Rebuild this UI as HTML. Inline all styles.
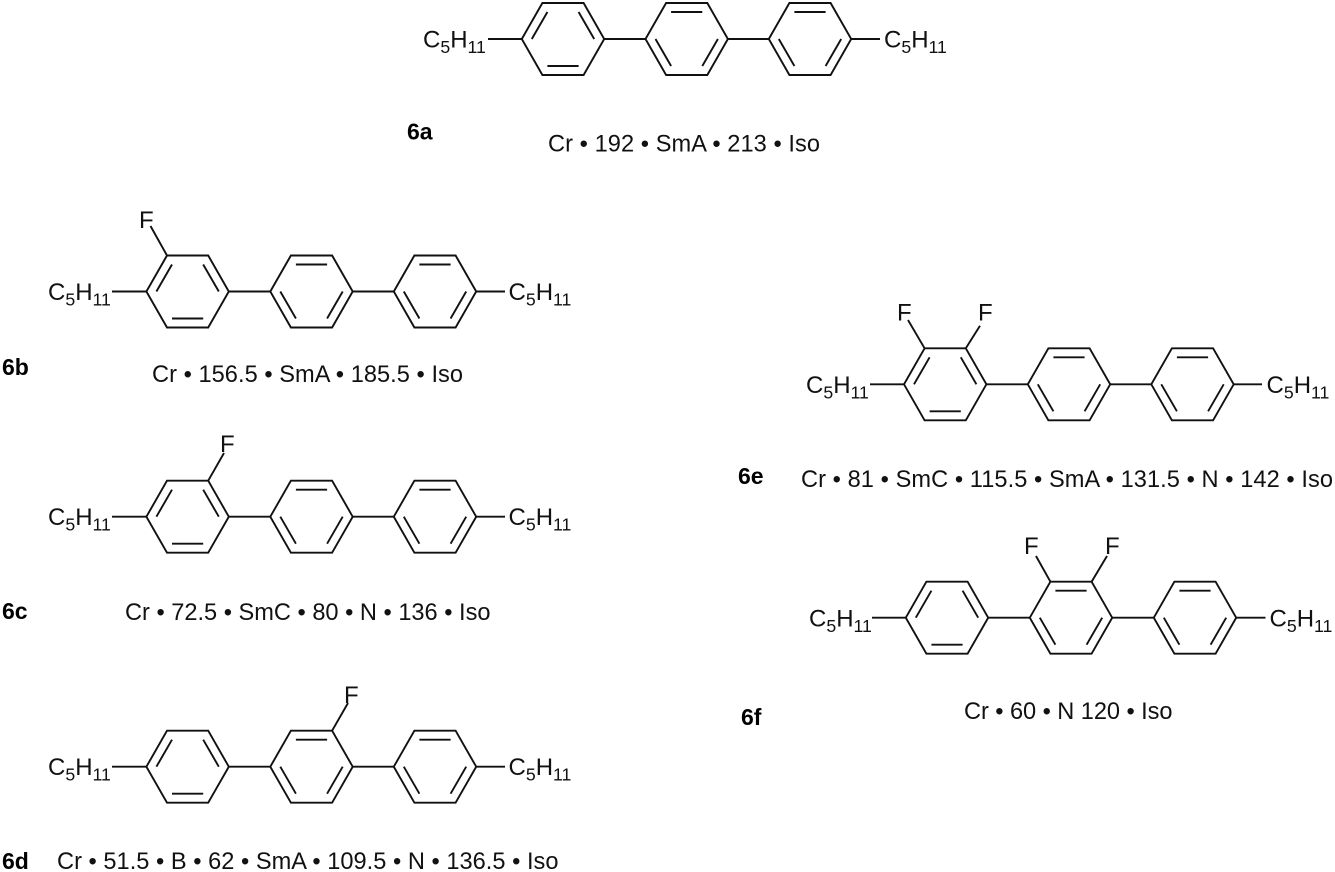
<!DOCTYPE html>
<html>
<head>
<meta charset="utf-8">
<style>
html,body{margin:0;padding:0;background:#fff;}
svg{display:block;}
text{font-family:"Liberation Sans",Arial,sans-serif;fill:#111;}
.r{font-size:23.6px;}
.b{font-size:23px;font-weight:bold;fill:#000;}
.g{font-size:24px;}
.s{font-size:17.7px;}
line,polygon{stroke:#111;stroke-width:1.9;fill:none;stroke-linejoin:miter;}
</style>
</head>
<body>
<svg width="1335" height="872" viewBox="0 0 1335 872" xmlns="http://www.w3.org/2000/svg">
<defs>
<g id="a">
<polygon points="-41.2,0 -20.6,-36 20.6,-36 41.2,0 20.6,36 -20.6,36"/>
<line x1="-31.2" y1="0" x2="-15.6" y2="-27"/>
<line x1="31.2" y1="0" x2="15.6" y2="-27"/>
<line x1="-15.6" y1="27" x2="15.6" y2="27"/>
</g>
<g id="c">
<polygon points="-41.2,0 -20.6,-36 20.6,-36 41.2,0 20.6,36 -20.6,36"/>
<line x1="-15.6" y1="-27" x2="15.6" y2="-27"/>
<line x1="-31.2" y1="0" x2="-15.6" y2="27"/>
<line x1="31.2" y1="0" x2="15.6" y2="27"/>
</g>
</defs>

<!-- 6a -->
<use href="#a" x="563" y="39"/><use href="#c" x="686.7" y="39"/><use href="#c" x="810" y="39"/>
<line x1="488" y1="39" x2="521.8" y2="39"/><line x1="604.2" y1="39" x2="645.5" y2="39"/><line x1="727.9" y1="39" x2="768.8" y2="39"/><line x1="851.2" y1="39" x2="880" y2="39"/>
<text class="g" x="423" y="47.5">C<tspan class="s" dy="5.5">5</tspan><tspan dy="-5.5">H</tspan><tspan class="s" dy="5.5">11</tspan></text>
<text class="g" x="884" y="47.5">C<tspan class="s" dy="5.5">5</tspan><tspan dy="-5.5">H</tspan><tspan class="s" dy="5.5">11</tspan></text>
<text class="b" x="407" y="139.5">6a</text>
<text class="r" x="548" y="151.5" textLength="272">Cr • 192 • SmA • 213 • Iso</text>

<!-- 6b -->
<use href="#a" x="187.6" y="291.5"/><use href="#c" x="311.5" y="291.5"/><use href="#c" x="435" y="291.5"/>
<line x1="112" y1="291.5" x2="146.4" y2="291.5"/><line x1="228.8" y1="291.5" x2="270.3" y2="291.5"/><line x1="352.7" y1="291.5" x2="393.8" y2="291.5"/><line x1="476.2" y1="291.5" x2="505" y2="291.5"/>
<line x1="167" y1="255.5" x2="150.5" y2="226"/>
<text class="g" x="139" y="228">F</text>
<text class="g" x="48" y="300">C<tspan class="s" dy="5.5">5</tspan><tspan dy="-5.5">H</tspan><tspan class="s" dy="5.5">11</tspan></text>
<text class="g" x="508.5" y="300">C<tspan class="s" dy="5.5">5</tspan><tspan dy="-5.5">H</tspan><tspan class="s" dy="5.5">11</tspan></text>
<text class="b" x="2" y="375">6b</text>
<text class="r" x="152" y="382" textLength="311">Cr • 156.5 • SmA • 185.5 • Iso</text>

<!-- 6c -->
<use href="#a" x="187.6" y="516.7"/><use href="#c" x="311.5" y="516.7"/><use href="#c" x="435" y="516.7"/>
<line x1="112" y1="516.7" x2="146.4" y2="516.7"/><line x1="228.8" y1="516.7" x2="270.3" y2="516.7"/><line x1="352.7" y1="516.7" x2="393.8" y2="516.7"/><line x1="476.2" y1="516.7" x2="505" y2="516.7"/>
<line x1="208.2" y1="480.7" x2="224" y2="453"/>
<text class="g" x="220" y="452">F</text>
<text class="g" x="48" y="525.2">C<tspan class="s" dy="5.5">5</tspan><tspan dy="-5.5">H</tspan><tspan class="s" dy="5.5">11</tspan></text>
<text class="g" x="508.5" y="525.2">C<tspan class="s" dy="5.5">5</tspan><tspan dy="-5.5">H</tspan><tspan class="s" dy="5.5">11</tspan></text>
<text class="b" x="2" y="619">6c</text>
<text class="r" x="125" y="620" textLength="365.5">Cr • 72.5 • SmC • 80 • N • 136 • Iso</text>

<!-- 6d -->
<use href="#a" x="187.6" y="766.7"/><use href="#c" x="311.5" y="766.7"/><use href="#c" x="435" y="766.7"/>
<line x1="112" y1="766.7" x2="146.4" y2="766.7"/><line x1="228.8" y1="766.7" x2="270.3" y2="766.7"/><line x1="352.7" y1="766.7" x2="393.8" y2="766.7"/><line x1="476.2" y1="766.7" x2="505" y2="766.7"/>
<line x1="332.1" y1="730.7" x2="348" y2="703"/>
<text class="g" x="344" y="703">F</text>
<text class="g" x="48" y="775.2">C<tspan class="s" dy="5.5">5</tspan><tspan dy="-5.5">H</tspan><tspan class="s" dy="5.5">11</tspan></text>
<text class="g" x="508.5" y="775.2">C<tspan class="s" dy="5.5">5</tspan><tspan dy="-5.5">H</tspan><tspan class="s" dy="5.5">11</tspan></text>
<text class="b" x="2" y="869">6d</text>
<text class="r" x="57" y="869" textLength="501.5">Cr • 51.5 • B • 62 • SmA • 109.5 • N • 136.5 • Iso</text>

<!-- 6e -->
<use href="#a" x="945.2" y="384.3"/><use href="#c" x="1069" y="384.3"/><use href="#c" x="1192.5" y="384.3"/>
<line x1="870" y1="384.3" x2="904" y2="384.3"/><line x1="986.4" y1="384.3" x2="1027.8" y2="384.3"/><line x1="1110.2" y1="384.3" x2="1151.3" y2="384.3"/><line x1="1233.7" y1="384.3" x2="1262" y2="384.3"/>
<line x1="924.6" y1="348.3" x2="908" y2="320"/><line x1="965.8" y1="348.3" x2="980" y2="325.7"/>
<text class="g" x="897" y="320.5">F</text>
<text class="g" x="978" y="320.5">F</text>
<text class="g" x="806" y="393">C<tspan class="s" dy="5.5">5</tspan><tspan dy="-5.5">H</tspan><tspan class="s" dy="5.5">11</tspan></text>
<text class="g" x="1266.5" y="393">C<tspan class="s" dy="5.5">5</tspan><tspan dy="-5.5">H</tspan><tspan class="s" dy="5.5">11</tspan></text>
<text class="b" x="738" y="484">6e</text>
<text class="r" x="801" y="487" textLength="532">Cr • 81 • SmC • 115.5 • SmA • 131.5 • N • 142 • Iso</text>

<!-- 6f -->
<use href="#a" x="947" y="617.7"/><use href="#c" x="1071" y="617.7"/><use href="#c" x="1195" y="617.7"/>
<line x1="872" y1="617.7" x2="905.8" y2="617.7"/><line x1="988.2" y1="617.7" x2="1029.8" y2="617.7"/><line x1="1112.2" y1="617.7" x2="1153.8" y2="617.7"/><line x1="1236.2" y1="617.7" x2="1265.5" y2="617.7"/>
<line x1="1050.4" y1="581.7" x2="1036" y2="556"/><line x1="1091.6" y1="581.7" x2="1107" y2="556"/>
<text class="g" x="1024" y="554">F</text>
<text class="g" x="1105" y="554">F</text>
<text class="g" x="809" y="626.5">C<tspan class="s" dy="5.5">5</tspan><tspan dy="-5.5">H</tspan><tspan class="s" dy="5.5">11</tspan></text>
<text class="g" x="1269.5" y="626.5">C<tspan class="s" dy="5.5">5</tspan><tspan dy="-5.5">H</tspan><tspan class="s" dy="5.5">11</tspan></text>
<text class="b" x="741" y="725">6f</text>
<text class="r" x="964" y="719" textLength="208.5">Cr • 60 • N 120 • Iso</text>
</svg>
</body>
</html>
